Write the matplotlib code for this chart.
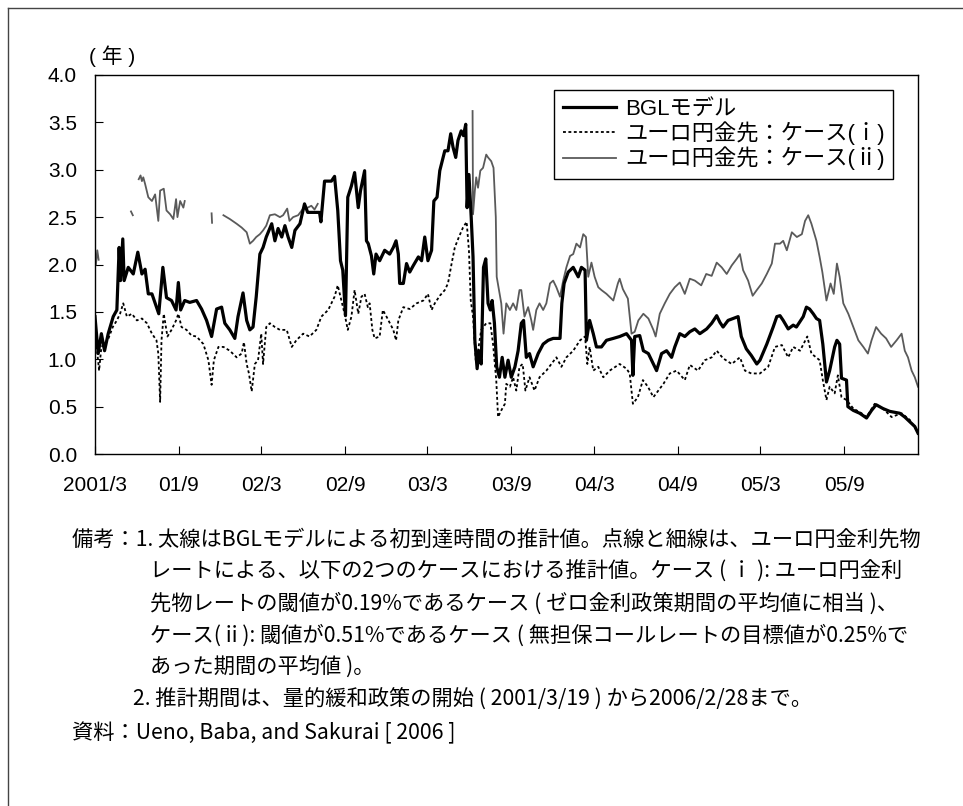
import numpy as np
import pandas as pd
import matplotlib
matplotlib.use('Agg')
import matplotlib.pyplot as plt
from matplotlib.lines import Line2D

plt.rcParams['font.family'] = ['Liberation Sans', 'Noto Sans CJK JP']
note_family = ['Noto Sans CJK JP']

# BGLモデル（太線）
bgl_dates = ['2001-03-19', '2001-03-26', '2001-04-02', '2001-04-09', '2001-04-17', '2001-04-28', '2001-05-06',
             '2001-05-11', '2001-05-14', '2001-05-19', '2001-05-22', '2001-05-31', '2001-06-11', '2001-06-21',
             '2001-06-30', '2001-07-07', '2001-07-14', '2001-07-22', '2001-08-01', '2001-08-06', '2001-08-15',
             '2001-08-23', '2001-09-03', '2001-09-13', '2001-09-18', '2001-09-23', '2001-10-02', '2001-10-13',
             '2001-10-28', '2001-11-08', '2001-11-19', '2001-11-30', '2001-12-11', '2001-12-22', '2001-12-29',
             '2002-01-09', '2002-01-20', '2002-01-27', '2002-02-07', '2002-02-15', '2002-02-22', '2002-03-01',
             '2002-03-08', '2002-03-16', '2002-03-23', '2002-03-30', '2002-04-11', '2002-04-18', '2002-04-25',
             '2002-05-03', '2002-05-10', '2002-05-17', '2002-05-25', '2002-06-01', '2002-06-12', '2002-06-22',
             '2002-06-29', '2002-07-14', '2002-07-25', '2002-07-28', '2002-08-05', '2002-08-20', '2002-08-27',
             '2002-09-03', '2002-09-09', '2002-09-14', '2002-09-20', '2002-09-25', '2002-10-03', '2002-10-10',
             '2002-10-18', '2002-10-23', '2002-11-01', '2002-11-05', '2002-11-09', '2002-11-16', '2002-11-21',
             '2002-11-26', '2002-12-04', '2002-12-15', '2002-12-26', '2003-01-03', '2003-01-09', '2003-01-14',
             '2003-01-17', '2003-01-25', '2003-02-01', '2003-02-08', '2003-02-16', '2003-02-27', '2003-03-06',
             '2003-03-13', '2003-03-20', '2003-03-28', '2003-04-02', '2003-04-09', '2003-04-15', '2003-04-26',
             '2003-05-03', '2003-05-09', '2003-05-14', '2003-05-20', '2003-05-25', '2003-06-01', '2003-06-06',
             '2003-06-11', '2003-06-14', '2003-06-18', '2003-06-23', '2003-06-27', '2003-07-01', '2003-07-06',
             '2003-07-10', '2003-07-15', '2003-07-20', '2003-07-25', '2003-07-30', '2003-08-04', '2003-08-08',
             '2003-08-13', '2003-08-18', '2003-08-24', '2003-08-30', '2003-09-05', '2003-09-12', '2003-09-19',
             '2003-09-27', '2003-10-04', '2003-10-11', '2003-10-16', '2003-10-22', '2003-10-29', '2003-11-06',
             '2003-11-17', '2003-11-28', '2003-12-09', '2003-12-20', '2004-01-04', '2004-01-08', '2004-01-13',
             '2004-01-22', '2004-02-02', '2004-02-13', '2004-02-20', '2004-02-28', '2004-03-02', '2004-03-09',
             '2004-03-17', '2004-03-24', '2004-04-04', '2004-04-15', '2004-04-30', '2004-05-14', '2004-05-29',
             '2004-06-09', '2004-06-12', '2004-06-16', '2004-06-27', '2004-07-05', '2004-07-16', '2004-07-27',
             '2004-08-03', '2004-08-14', '2004-08-25', '2004-09-05', '2004-09-12', '2004-09-23', '2004-10-04',
             '2004-10-15', '2004-10-26', '2004-11-06', '2004-11-21', '2004-12-02', '2004-12-13', '2004-12-20',
             '2004-12-27', '2005-01-07', '2005-01-18', '2005-01-29', '2005-02-05', '2005-02-16', '2005-02-27',
             '2005-03-11', '2005-03-18', '2005-04-02', '2005-04-16', '2005-04-24', '2005-05-01', '2005-05-08',
             '2005-05-19', '2005-05-30', '2005-06-06', '2005-06-21', '2005-06-28', '2005-07-05', '2005-07-13',
             '2005-07-20', '2005-07-27', '2005-08-03', '2005-08-11', '2005-08-18', '2005-08-29', '2005-09-03',
             '2005-09-09', '2005-09-13', '2005-09-24', '2005-09-27', '2005-10-09', '2005-10-23', '2005-11-07',
             '2005-11-18', '2005-11-28', '2005-12-13', '2005-12-28', '2006-01-19', '2006-01-30', '2006-02-10',
             '2006-02-21', '2006-02-28']
bgl_vals = [1.45, 1.06, 1.27, 1.09, 1.27, 1.45, 1.52,
            2.18, 1.83, 2.27, 1.83, 1.97, 1.90, 2.13,
            1.90, 1.95, 1.69, 1.69, 1.55, 1.48, 1.97,
            1.65, 1.62, 1.52, 1.81, 1.52, 1.62, 1.60,
            1.62, 1.53, 1.41, 1.24, 1.53, 1.55, 1.38,
            1.31, 1.22, 1.45, 1.70, 1.41, 1.31, 1.34,
            1.66, 2.11, 2.18, 2.29, 2.43, 2.25, 2.38,
            2.29, 2.41, 2.29, 2.18, 2.36, 2.43, 2.64,
            2.55, 2.55, 2.55, 2.45, 2.88, 2.88, 2.93,
            2.57, 2.04, 1.94, 1.46, 2.71, 2.83, 2.97,
            2.60, 2.78, 2.99, 2.25, 2.22, 2.09, 1.90,
            2.11, 2.04, 2.15, 2.11, 2.18, 2.25, 2.11,
            1.80, 1.80, 2.01, 1.92, 1.99, 2.08, 2.04,
            2.29, 2.04, 2.15, 2.67, 2.71, 2.99, 3.20,
            3.20, 3.38, 3.24, 3.13, 3.31, 3.41, 3.36,
            3.48, 2.60, 2.95, 2.50, 2.08, 1.20, 0.90,
            1.09, 0.95, 1.97, 2.06, 1.59, 1.52, 1.62,
            1.38, 0.92, 0.81, 1.02, 0.81, 0.99, 0.81,
            0.92, 1.09, 1.38, 1.41, 1.02, 1.06, 0.92,
            1.06, 1.16, 1.20, 1.22, 1.22, 1.59, 1.80,
            1.92, 1.97, 1.87, 1.97, 1.94, 1.20, 1.41,
            1.27, 1.13, 1.13, 1.20, 1.22, 1.24, 1.27,
            1.20, 0.83, 1.24, 1.25, 1.09, 1.06, 0.95,
            0.88, 1.06, 1.09, 1.02, 1.13, 1.27, 1.24,
            1.29, 1.32, 1.27, 1.32, 1.38, 1.46, 1.39,
            1.34, 1.41, 1.43, 1.45, 1.24, 1.11, 1.04,
            0.95, 0.99, 1.16, 1.34, 1.45, 1.46, 1.41,
            1.32, 1.36, 1.34, 1.45, 1.55, 1.53, 1.48,
            1.43, 1.41, 1.16, 0.76, 0.88, 1.13, 1.20,
            1.16, 0.80, 0.78, 0.50, 0.46, 0.43, 0.38,
            0.46, 0.52, 0.48, 0.45, 0.43, 0.39, 0.34,
            0.29, 0.22]

# ユーロ円金先：ケース(i)（点線）
case1_dates = ['2001-03-19', '2001-03-28', '2001-04-02', '2001-04-16', '2001-04-27', '2001-05-06', '2001-05-13',
               '2001-05-20', '2001-05-28', '2001-06-08', '2001-06-19', '2001-06-30', '2001-07-11', '2001-07-22',
               '2001-08-01', '2001-08-05', '2001-08-09', '2001-08-12', '2001-08-17', '2001-08-25', '2001-09-03',
               '2001-09-13', '2001-09-18', '2001-09-25', '2001-10-06', '2001-10-17', '2001-10-28', '2001-11-12',
               '2001-11-23', '2001-11-30', '2001-12-05', '2001-12-15', '2001-12-26', '2002-01-09', '2002-01-24',
               '2002-02-04', '2002-02-09', '2002-02-15', '2002-02-20', '2002-02-26', '2002-03-05', '2002-03-12',
               '2002-03-19', '2002-03-23', '2002-03-30', '2002-04-07', '2002-04-18', '2002-04-29', '2002-05-14',
               '2002-05-25', '2002-06-04', '2002-06-19', '2002-07-03', '2002-07-18', '2002-07-29', '2002-08-13',
               '2002-08-27', '2002-09-03', '2002-09-11', '2002-09-18', '2002-09-25', '2002-10-03', '2002-10-10',
               '2002-10-18', '2002-10-25', '2002-11-01', '2002-11-08', '2002-11-12', '2002-11-18', '2002-11-23',
               '2002-12-04', '2002-12-11', '2002-12-19', '2003-01-03', '2003-01-09', '2003-01-14', '2003-01-25',
               '2003-02-08', '2003-02-23', '2003-03-10', '2003-03-20', '2003-03-28', '2003-04-04', '2003-04-15',
               '2003-04-26', '2003-05-03', '2003-05-11', '2003-05-18', '2003-05-27', '2003-06-05', '2003-06-13',
               '2003-06-18', '2003-06-22', '2003-06-27', '2003-07-03', '2003-07-08', '2003-07-15', '2003-07-26',
               '2003-08-04', '2003-08-10', '2003-08-17', '2003-08-21', '2003-08-28', '2003-09-05', '2003-09-08',
               '2003-09-16', '2003-09-23', '2003-09-30', '2003-10-07', '2003-10-14', '2003-10-20', '2003-10-29',
               '2003-11-09', '2003-11-20', '2003-12-05', '2003-12-16', '2003-12-27', '2004-01-07', '2004-01-18',
               '2004-02-02', '2004-02-17', '2004-02-28', '2004-03-04', '2004-03-09', '2004-03-17', '2004-03-28',
               '2004-04-08', '2004-04-22', '2004-05-14', '2004-05-29', '2004-06-05', '2004-06-12', '2004-06-23',
               '2004-07-04', '2004-07-15', '2004-07-27', '2004-08-07', '2004-08-18', '2004-09-01', '2004-09-16',
               '2004-10-04', '2004-10-15', '2004-11-02', '2004-11-17', '2004-12-02', '2004-12-13', '2004-12-27',
               '2005-01-15', '2005-02-02', '2005-02-13', '2005-02-27', '2005-03-18', '2005-04-05', '2005-04-20',
               '2005-05-05', '2005-05-19', '2005-05-30', '2005-06-14', '2005-06-30', '2005-07-09', '2005-07-27',
               '2005-08-03', '2005-08-11', '2005-08-18', '2005-08-29', '2005-09-05', '2005-09-13', '2005-09-24',
               '2005-10-09', '2005-10-27', '2005-11-07', '2005-11-25', '2005-12-13', '2006-01-01', '2006-01-23',
               '2006-02-10', '2006-02-25']
case1_vals = [1.31, 0.88, 1.13, 1.20, 1.34, 1.41, 1.48,
              1.59, 1.45, 1.48, 1.41, 1.43, 1.38, 1.27,
              1.20, 1.06, 0.55, 1.20, 1.48, 1.24, 1.31,
              1.41, 1.48, 1.34, 1.31, 1.25, 1.24, 1.16,
              0.99, 0.73, 0.99, 1.13, 1.13, 1.09, 1.02,
              1.06, 1.18, 0.95, 0.85, 0.66, 0.95, 0.99,
              1.27, 0.95, 1.34, 1.38, 1.34, 1.31, 1.31,
              1.13, 1.20, 1.27, 1.24, 1.31, 1.45, 1.52,
              1.66, 1.78, 1.62, 1.48, 1.31, 1.45, 1.73,
              1.48, 1.66, 1.69, 1.55, 1.59, 1.31, 1.22,
              1.24, 1.52, 1.45, 1.31, 1.20, 1.41, 1.55,
              1.53, 1.59, 1.62, 1.69, 1.52, 1.59, 1.67,
              1.73, 1.80, 2.01, 2.18, 2.29, 2.39, 2.45,
              2.15, 1.62, 1.45, 0.99, 1.09, 1.31, 1.38,
              1.38, 1.16, 0.78, 0.39, 0.46, 0.53, 0.74,
              0.71, 0.81, 0.67, 0.92, 0.95, 0.67, 0.81,
              0.67, 0.81, 0.88, 0.95, 1.02, 0.92, 1.02,
              1.09, 1.20, 1.24, 0.95, 1.13, 0.88, 0.92,
              0.81, 0.88, 0.95, 0.90, 0.85, 0.53, 0.60,
              0.78, 0.71, 0.60, 0.67, 0.74, 0.85, 0.88,
              0.78, 0.94, 0.88, 0.99, 1.02, 1.09, 1.01,
              0.95, 1.02, 0.88, 0.85, 0.85, 0.92, 1.13,
              1.15, 1.02, 1.13, 1.09, 1.24, 1.06, 0.99,
              0.78, 0.57, 0.71, 0.64, 0.83, 0.60, 0.57,
              0.48, 0.43, 0.39, 0.53, 0.48, 0.39, 0.43,
              0.36, 0.25]

# ユーロ円金先：ケース(ii)（細線、None は欠損）
case2_dates = ['2001-03-21', '2001-03-24', '2001-03-27', '2001-04-20',
               '2001-06-06', '2001-06-10', '2001-06-15',
               '2001-06-23', '2001-06-27', '2001-06-30', '2001-07-03', '2001-07-07', '2001-07-14', '2001-07-22',
               '2001-07-29', '2001-08-05', '2001-08-09', '2001-08-17', '2001-08-23', '2001-08-31', '2001-09-07',
               '2001-09-13', '2001-09-16', '2001-09-22', '2001-09-29', '2001-10-02', '2001-11-10',
               '2001-11-30', '2001-12-01', '2001-12-15',
               '2001-12-26', '2002-01-09', '2002-01-24', '2002-02-04', '2002-02-15', '2002-02-22', '2002-03-01',
               '2002-03-08', '2002-03-16', '2002-03-23', '2002-03-30', '2002-04-07', '2002-04-18', '2002-04-29',
               '2002-05-06', '2002-05-15', '2002-05-20', '2002-05-28', '2002-06-08', '2002-06-19', '2002-06-29',
               '2002-07-07', '2002-07-14', '2002-07-21', '2003-01-01',
               '2003-06-26', '2003-06-27', '2003-07-01', '2003-07-04', '2003-07-08', '2003-07-13', '2003-07-19',
               '2003-07-26', '2003-07-30', '2003-08-06', '2003-08-11', '2003-08-16', '2003-08-18', '2003-08-23',
               '2003-08-28', '2003-09-02', '2003-09-08', '2003-09-16', '2003-09-23', '2003-09-30', '2003-10-07',
               '2003-10-11', '2003-10-18', '2003-10-26', '2003-11-02', '2003-11-06', '2003-11-13', '2003-11-20',
               '2003-11-28', '2003-12-05', '2003-12-13', '2003-12-20', '2003-12-27', '2004-01-04', '2004-01-11',
               '2004-01-18', '2004-01-26', '2004-02-02', '2004-02-09', '2004-02-17', '2004-02-24', '2004-03-01',
               '2004-03-06', '2004-03-13', '2004-03-20', '2004-03-28', '2004-04-04', '2004-04-15', '2004-04-30',
               '2004-05-10', '2004-05-14', '2004-05-21', '2004-06-01', '2004-06-09', '2004-06-16', '2004-06-24',
               '2004-07-05', '2004-07-16', '2004-07-27', '2004-08-01', '2004-08-10', '2004-08-21', '2004-09-01',
               '2004-09-12', '2004-09-23', '2004-10-04', '2004-10-15', '2004-10-26', '2004-11-09', '2004-11-20',
               '2004-12-02', '2004-12-13', '2004-12-24', '2005-01-04', '2005-01-15', '2005-01-26', '2005-02-02',
               '2005-02-09', '2005-02-20', '2005-03-02', '2005-03-11', '2005-03-22', '2005-04-02', '2005-04-13',
               '2005-04-20', '2005-05-01', '2005-05-08', '2005-05-16', '2005-05-27', '2005-06-07', '2005-06-18',
               '2005-06-25', '2005-07-02', '2005-07-09', '2005-07-20', '2005-07-27', '2005-08-02', '2005-08-11',
               '2005-08-20', '2005-08-27', '2005-09-03', '2005-09-09', '2005-09-17', '2005-09-28', '2005-10-09',
               '2005-10-20', '2005-10-31', '2005-11-10', '2005-11-18', '2005-11-28', '2005-12-09', '2005-12-20',
               '2005-12-31', '2006-01-12', '2006-01-23', '2006-01-30', '2006-02-06', '2006-02-14', '2006-02-21',
               '2006-02-28']
case2_vals = [2.00, 2.15, 2.05, None,
              2.56, 2.52, None,
              2.90, 2.94, 2.88, 2.92, 2.85, 2.71, 2.67,
              2.74, 2.46, 2.78, 2.80, 2.57, 2.53, 2.48,
              2.69, 2.50, 2.67, 2.60, 2.67, None,
              2.54, 2.44, None,
              2.52, 2.48, 2.43, 2.39, 2.34, 2.22, 2.25,
              2.29, 2.32, 2.36, 2.41, 2.52, 2.53, 2.50,
              2.52, 2.59, 2.46, 2.50, 2.52, 2.59, 2.60,
              2.62, 2.58, 2.64, None,
              3.62, 2.53, 2.78, 2.92, 2.81, 2.99, 3.02,
              3.16, 3.13, 3.09, 3.02, 2.50, 1.87, 1.73,
              1.59, 1.27, 1.59, 1.52, 1.59, 1.52, 1.73,
              1.73, 1.45, 1.55, 1.41, 1.31, 1.52, 1.59,
              1.52, 1.59, 1.80, 1.83, 1.76, 1.66, 1.83,
              1.97, 2.09, 2.11, 2.22, 2.18, 2.32, 2.29,
              1.87, 2.02, 1.87, 1.76, 1.73, 1.69, 1.62,
              1.80, 1.85, 1.74, 1.64, 1.27, 1.29, 1.41,
              1.48, 1.43, 1.31, 1.24, 1.48, 1.59, 1.69,
              1.76, 1.81, 1.69, 1.85, 1.83, 1.78, 1.90,
              1.88, 2.02, 1.97, 1.90, 1.99, 2.06, 2.11,
              1.94, 1.83, 1.67, 1.73, 1.80, 1.90, 2.01,
              2.22, 2.22, 2.25, 2.15, 2.34, 2.29, 2.32,
              2.46, 2.52, 2.43, 2.25, 2.08, 1.92, 1.62,
              1.80, 1.69, 2.01, 1.87, 1.59, 1.48, 1.34,
              1.20, 1.13, 1.06, 1.20, 1.34, 1.27, 1.22,
              1.13, 1.20, 1.27, 1.09, 1.02, 0.88, 0.81,
              0.71]

tick_dates = ['2001-03-19', '2001-09-19', '2002-03-19', '2002-09-19', '2003-03-19',
              '2003-09-19', '2004-03-19', '2004-09-19', '2005-03-19', '2005-09-19']
tick_labels = ['2001/3', '01/9', '02/3', '02/9', '03/3', '03/9', '04/3', '04/9', '05/3', '05/9']

legend_labels = ['BGLモデル', 'ユーロ円金先：ケース(ｉ)', 'ユーロ円金先：ケース(ⅱ)']

notes = [
    (72, 540, '備考：1. 太線はBGLモデルによる初到達時間の推計値。点線と細線は、ユーロ円金利先物'),
    (150, 572, 'レートによる、以下の2つのケースにおける推計値。ケース ( ｉ ): ユーロ円金利'),
    (150, 604, '先物レートの閾値が0.19%であるケース ( ゼロ金利政策期間の平均値に相当 )、'),
    (150, 636, 'ケース(ⅱ): 閾値が0.51%であるケース ( 無担保コールレートの目標値が0.25%で'),
    (150, 668, 'あった期間の平均値 )。'),
    (133, 700, '2. 推計期間は、量的緩和政策の開始 ( 2001/3/19 ) から2006/2/28まで。'),
    (72, 733, '資料：Ueno, Baba, and Sakurai [ 2006 ]'),
]

W, H = 963, 806
fig = plt.figure(figsize=(W / 100, H / 100), dpi=100)
ax = fig.add_axes([95 / W, 1 - 454 / H, (918 - 95) / W, (454 - 75) / H])

ax.plot(pd.to_datetime(case2_dates), np.array(case2_vals, dtype=float), color='#5a5a5a', lw=1.3)
ax.plot(pd.to_datetime(case1_dates), case1_vals, color='black', lw=1.3, ls=(0, (1.6, 1.4)))
ax.plot(pd.to_datetime(bgl_dates), bgl_vals, color='black', lw=2.3)

ax.set_xlim(pd.Timestamp('2001-03-19'), pd.Timestamp('2006-02-28'))
ax.set_ylim(0, 4)
ax.set_yticks(np.arange(0, 4.01, 0.5))
ax.set_yticklabels([f'{v:.1f}' for v in np.arange(0, 4.01, 0.5)])
ax.set_xticks(pd.to_datetime(tick_dates))
ax.set_xticklabels(tick_labels)
ax.tick_params(axis='both', direction='in', length=6, width=0.8, labelsize=15)
ax.tick_params(axis='x', pad=16)
ax.tick_params(axis='y', pad=13)
for s in ax.spines.values():
    s.set_linewidth(1.0)

handles = [Line2D([], [], color='black', lw=2.3),
           Line2D([], [], color='black', lw=1.3, ls=(0, (1.6, 1.4))),
           Line2D([], [], color='#5a5a5a', lw=1.3)]
leg = ax.legend(handles, legend_labels, loc='upper right', bbox_to_anchor=(893 / W, 1 - 90 / H),
                bbox_transform=fig.transFigure, borderaxespad=0, fancybox=False, framealpha=1,
                edgecolor='black', fontsize=16, handlelength=2.4, handletextpad=0.4,
                labelspacing=0.08, borderpad=0.38)
leg.get_frame().set_linewidth(1.0)

fig.text(112 / W, 1 - 56 / H, '( 年 )', ha='center', va='center', fontsize=15)

for x, y, t in notes:
    fig.text(x / W, 1 - y / H, t, ha='left', va='center', fontsize=15.3, family=note_family)

# 外枠
fig.add_artist(Line2D([8 / W, 8 / W], [0, 1 - 8 / H], transform=fig.transFigure, color='#444444', lw=1))
fig.add_artist(Line2D([8 / W, 1], [1 - 8 / H, 1 - 8 / H], transform=fig.transFigure, color='#444444', lw=1))

fig.savefig('out.png', dpi=100)
